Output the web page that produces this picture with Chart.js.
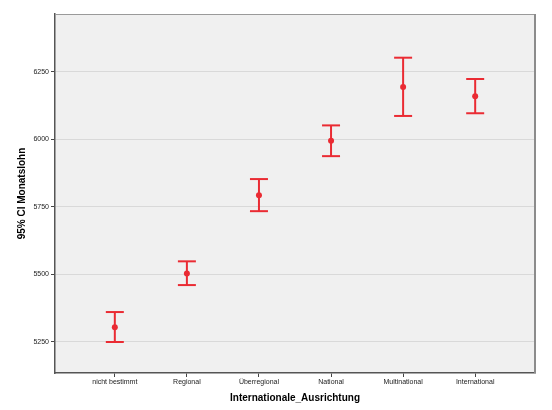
<!DOCTYPE html>
<html>
<head>
<meta charset="utf-8">
<script src="https://cdn.jsdelivr.net/npm/chart.js@4"></script>
<style>
  html, body { margin: 0; padding: 0; background: #fff; }
  #wrap { width: 552px; height: 410px; }
</style>
</head>
<body>
<div id="wrap"><canvas id="ciChart" width="552" height="410"></canvas></div>
<script>
// Werte
const categories = ['nicht bestimmt', 'Regional', 'Überregional', 'National', 'Multinational', 'International'];
const means = [5304, 5503, 5793, 5995, 6194, 6160];
const lowerCI = [5249, 5460, 5734, 5938, 6087, 6097];
const upperCI = [5360, 5548, 5853, 6052, 6303, 6224];
const yTicks = [5250, 5500, 5750, 6000, 6250];

const red = '#ea2b33';

const datasets = [];
categories.forEach(function (c, i) {
    datasets.push({
        data: [{ x: i, y: lowerCI[i] }, { x: i, y: upperCI[i] }],
        showLine: true,
        borderColor: red,
        borderWidth: 2,
        pointStyle: 'line',
        pointRadius: 9,
        pointBorderWidth: 2,
        pointBorderColor: red
    });
});
datasets.push({
    data: means.map(function (m, i) { return { x: i, y: m }; }),
    showLine: false,
    pointStyle: 'circle',
    pointRadius: 3,
    pointBackgroundColor: red,
    pointBorderColor: red,
    pointBorderWidth: 0
});

const plotBg = {
    id: 'plotBg',
    beforeDraw: function (chart) {
        const a = chart.chartArea;
        const ctx = chart.ctx;
        ctx.save();
        ctx.fillStyle = '#f0f0f0';
        ctx.fillRect(a.left, a.top, a.right - a.left, a.bottom - a.top);
        ctx.restore();
    },
    afterDraw: function (chart) {
        const a = chart.chartArea;
        const ctx = chart.ctx;
        ctx.save();
        ctx.strokeStyle = '#9a9a9a';
        ctx.lineWidth = 1;
        ctx.beginPath();
        ctx.moveTo(a.left, a.top + 0.5);
        ctx.lineTo(a.right, a.top + 0.5);
        ctx.stroke();
        ctx.lineWidth = 2;
        ctx.strokeStyle = '#8c8c8c';
        ctx.beginPath();
        ctx.moveTo(a.right, a.top);
        ctx.lineTo(a.right, a.bottom);
        ctx.stroke();
        ctx.restore();
    }
};

new Chart(document.getElementById('ciChart'), {
    type: 'scatter',
    data: { datasets: datasets },
    plugins: [plotBg],
    options: {
        responsive: false,
        animation: false,
        layout: { padding: { top: 14, right: 17, left: 0, bottom: 0 } },
        plugins: {
            legend: { display: false },
            tooltip: { enabled: false }
        },
        scales: {
            x: {
                type: 'linear',
                min: -0.83,
                max: 5.83,
                afterBuildTicks: function (scale) {
                    scale.ticks = categories.map(function (c, i) { return { value: i }; });
                },
                afterFit: function (scale) { scale.height = 37; },
                ticks: {
                    callback: function (v) { return categories[v]; },
                    font: { family: 'Liberation Sans', size: 7 },
                    color: '#222',
                    padding: 1,
                    maxRotation: 0
                },
                grid: {
                    drawOnChartArea: false,
                    drawTicks: true,
                    tickLength: 4,
                    tickColor: '#444'
                },
                border: { color: '#555', width: 1.5 },
                title: {
                    display: true,
                    text: 'Internationale_Ausrichtung',
                    font: { family: 'Liberation Sans', size: 10, weight: 'bold' },
                    color: '#000',
                    padding: { top: 0, bottom: 6 }
                }
            },
            y: {
                min: 5134,
                max: 6465,
                afterBuildTicks: function (scale) {
                    scale.ticks = yTicks.map(function (v) { return { value: v }; });
                },
                afterFit: function (scale) { scale.width = 55; },
                ticks: {
                    font: { family: 'Liberation Sans', size: 7 },
                    color: '#222',
                    padding: 2,
                    callback: function (v) { return String(v); }
                },
                grid: {
                    color: '#d9d9d9',
                    lineWidth: 1,
                    drawTicks: true,
                    tickLength: 4,
                    tickColor: '#444'
                },
                border: { color: '#555', width: 1.5 },
                title: {
                    display: true,
                    text: '95% CI Monatslohn',
                    font: { family: 'Liberation Sans', size: 10, weight: 'bold' },
                    color: '#000',
                    padding: { top: 16, bottom: 0 }
                }
            }
        }
    }
});
</script>
</body>
</html>
